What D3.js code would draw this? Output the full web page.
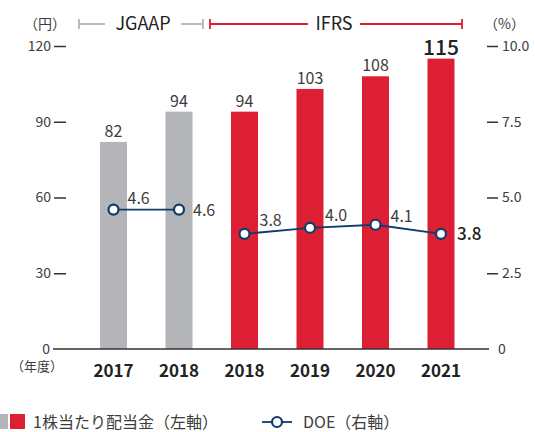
<!DOCTYPE html>
<html>
<head>
<meta charset="utf-8">
<script src="https://d3js.org/d3.v7.min.js"></script>
<style>
  body { margin: 0; background: #fff; }
  svg text { font-family: "Noto Sans CJK JP", "Noto Sans", sans-serif; }
</style>
</head>
<body>
<div id="chart"></div>
<script>
// data
const years = ["2017", "2018", "2018", "2019", "2020", "2021"];
const standards = ["JGAAP", "JGAAP", "IFRS", "IFRS", "IFRS", "IFRS"];
const dividends = [82, 94, 94, 103, 108, 115];
const doe = [4.6, 4.6, 3.8, 4.0, 4.1, 3.8];
const leftTicks = [0, 30, 60, 90, 120];
const rightTicks = [0, 2.5, 5.0, 7.5, 10.0];

const W = 535, H = 432;
const gray = "#b4b5b8", red = "#dc1f33", navy = "#0f3c6b", txt = "#3c3c3c";

const svg = d3.select("#chart").append("svg")
  .attr("width", W).attr("height", H);

const idx = d3.range(years.length);
const x = d3.scalePoint().domain(idx).range([113.5, 441]);
const barW = 27;
const yL = d3.scaleLinear().domain([0, 120]).range([349, 46]);
const yR = d3.scaleLinear().domain([0, 10]).range([349, 46]);
const last = idx.length - 1;

// left axis
const gl = svg.append("g").attr("transform", "translate(66,0)")
  .call(d3.axisLeft(yL).tickValues(leftTicks.slice(1)).tickSize(12).tickPadding(3));
gl.select(".domain").remove();
gl.selectAll("line").attr("stroke", "#333").attr("stroke-width", 1.5);
gl.selectAll("text").attr("fill", txt).style("font-size", "14px");

// right axis
const gr = svg.append("g").attr("transform", "translate(487,0)")
  .call(d3.axisRight(yR).tickValues(rightTicks.slice(1)).tickSize(11).tickPadding(4)
    .tickFormat(d3.format(".1f")));
gr.select(".domain").remove();
gr.selectAll("line").attr("stroke", "#333").attr("stroke-width", 1.5);
gr.selectAll("text").attr("fill", txt).style("font-size", "14px");

// bars
svg.append("g").selectAll("rect").data(idx).join("rect")
  .attr("x", i => x(i) - barW / 2)
  .attr("y", i => yL(dividends[i]))
  .attr("width", barW)
  .attr("height", i => yL(0) - yL(dividends[i]))
  .attr("fill", i => standards[i] === "JGAAP" ? gray : red);

// baseline + zero labels
svg.append("line").attr("x1", 53).attr("x2", 489)
  .attr("y1", yL(0)).attr("y2", yL(0))
  .attr("stroke", "#333").attr("stroke-width", 1.5);
svg.append("text").attr("x", 50).attr("y", yL(0)).attr("dy", "0.35em")
  .attr("text-anchor", "end").attr("fill", txt).style("font-size", "14px").text("0");
svg.append("text").attr("x", 498).attr("y", yL(0)).attr("dy", "0.35em")
  .attr("fill", txt).style("font-size", "14px").text("0");

// bar value labels
svg.append("g").selectAll("text").data(idx).join("text")
  .attr("x", i => x(i))
  .attr("y", i => yL(dividends[i]) - (i === last ? 4 : 5))
  .attr("text-anchor", "middle")
  .attr("fill", i => i === last ? "#222" : txt)
  .style("font-size", i => i === last ? "21px" : "16px")
  .style("font-weight", i => i === last ? 500 : 400)
  .text(i => dividends[i]);

// DOE lines, one per accounting standard
const line = d3.line().x(i => x(i)).y(i => yR(doe[i]));
["JGAAP", "IFRS"].forEach(s => {
  svg.append("path").datum(idx.filter(i => standards[i] === s))
    .attr("d", line).attr("fill", "none")
    .attr("stroke", navy).attr("stroke-width", 1.8);
});
svg.append("g").selectAll("circle").data(idx).join("circle")
  .attr("cx", i => x(i)).attr("cy", i => yR(doe[i])).attr("r", 5)
  .attr("fill", "#fff").attr("stroke", navy).attr("stroke-width", 2.2);

// DOE labels (offset from point)
const labelOff = [[14, -6], [14, 6], [15, -8], [15, -7], [15, -3], [16, 6]];
svg.append("g").selectAll("text").data(idx).join("text")
  .attr("x", i => x(i) + labelOff[i][0])
  .attr("y", i => yR(doe[i]) + labelOff[i][1])
  .attr("fill", i => i === last ? "#222" : txt)
  .style("font-size", i => i === last ? "17px" : "16px")
  .style("font-weight", i => i === last ? 500 : 400)
  .text(i => doe[i].toFixed(1));

// year labels
svg.append("g").selectAll("text").data(idx).join("text")
  .attr("x", i => x(i)).attr("y", 377)
  .attr("text-anchor", "middle").attr("fill", "#222")
  .style("font-size", "17px").style("font-weight", "bold")
  .text(i => years[i]);
svg.append("text").attr("x", 11).attr("y", 371)
  .attr("fill", txt).style("font-size", "13px").text("（年度）");

// unit labels
svg.append("text").attr("x", 24).attr("y", 29)
  .attr("fill", txt).style("font-size", "14px").text("（円）");
svg.append("text").attr("x", 484).attr("y", 29)
  .attr("fill", txt).style("font-size", "14px").text("（%）");

// accounting standard brackets
function bracket(x1, x2, tx1, tx2, label, color) {
  const g = svg.append("g").attr("stroke", color).attr("stroke-width", 1.8);
  const yy = 24;
  g.append("line").attr("x1", x1).attr("x2", tx1).attr("y1", yy).attr("y2", yy);
  g.append("line").attr("x1", tx2).attr("x2", x2).attr("y1", yy).attr("y2", yy);
  g.append("line").attr("x1", x1).attr("x2", x1).attr("y1", yy - 5).attr("y2", yy + 5);
  g.append("line").attr("x1", x2).attr("x2", x2).attr("y1", yy - 5).attr("y2", yy + 5);
  svg.append("text").attr("x", (tx1 + tx2) / 2).attr("y", 30)
    .attr("text-anchor", "middle").attr("fill", "#222")
    .style("font-size", "18px").text(label);
}
bracket(79, 203, 105, 181, "JGAAP", gray);
bracket(210, 462, 308, 360, "IFRS", red);

// legend
svg.append("rect").attr("x", -7).attr("y", 414).attr("width", 15).attr("height", 15).attr("fill", gray);
svg.append("rect").attr("x", 10).attr("y", 414).attr("width", 15).attr("height", 15).attr("fill", red);
svg.append("text").attr("x", 33).attr("y", 428)
  .attr("fill", txt).style("font-size", "16px").text("1株当たり配当金（左軸）");
svg.append("line").attr("x1", 262).attr("x2", 292).attr("y1", 422).attr("y2", 422)
  .attr("stroke", navy).attr("stroke-width", 1.8);
svg.append("circle").attr("cx", 277).attr("cy", 422).attr("r", 5)
  .attr("fill", "#fff").attr("stroke", navy).attr("stroke-width", 2.2);
svg.append("text").attr("x", 303).attr("y", 428)
  .attr("fill", txt).style("font-size", "16px").text("DOE（右軸）");
</script>
</body>
</html>
